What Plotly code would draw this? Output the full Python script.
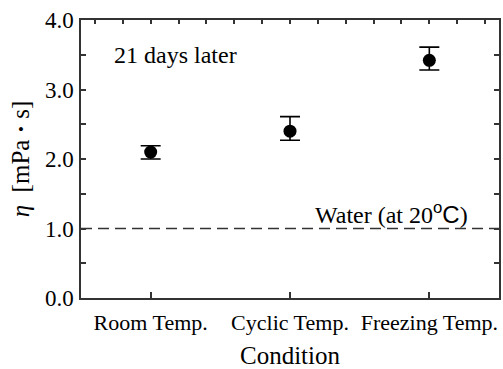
import plotly.graph_objects as go

# ---- data ----
categories = ["Room Temp.", "Cyclic Temp.", "Freezing Temp."]
cat_pos = [0, 1, 2]
viscosity = [2.10, 2.40, 3.42]
err_plus = [0.09, 0.21, 0.19]
err_minus = [0.10, 0.13, 0.14]
water_viscosity = 1.0
y_tickvals = [0.0, 1.0, 2.0, 3.0, 4.0]
y_ticktext = ["0.0", "1.0", "2.0", "3.0", "4.0"]
top_minor_ticks = [-0.4, -0.2, 0.0, 0.2, 0.4, 0.6, 0.8, 1.0, 1.2, 1.4, 1.6, 1.8, 2.0, 2.2, 2.4]
right_ticks = [0.5, 1.0, 1.5, 2.0, 2.5, 3.0, 3.5]

FONT = "Liberation Serif"
AX = "#333333"

fig = go.Figure()
fig.add_trace(go.Scatter(
    x=cat_pos, y=viscosity, mode="markers",
    marker=dict(color="black", size=13),
    error_y=dict(type="data", symmetric=False, array=err_plus, arrayminus=err_minus,
                 color="black", thickness=1.6, width=10),
    showlegend=False, hoverinfo="skip",
))
# invisible traces to activate secondary axes
fig.add_trace(go.Scatter(x=[None], y=[None], xaxis="x2", yaxis="y", showlegend=False))
fig.add_trace(go.Scatter(x=[None], y=[None], xaxis="x", yaxis="y2", showlegend=False))

fig.add_shape(type="line", xref="paper", x0=0, x1=1, yref="y", y0=water_viscosity, y1=water_viscosity,
              line=dict(color="#333333", width=1.5, dash="11px,6px"), layer="below")

fig.add_annotation(x=-0.28, y=3.5, xref="x", yref="y", text="21 days later", showarrow=False,
                   xanchor="left", yanchor="middle", font=dict(family=FONT, size=24, color="black"))
fig.add_annotation(x=2.29, y=1.22, xref="x", yref="y",
                   text="Water (at 20<span style=\"font-family:Liberation Sans\"><sup>o</sup>C</span>)",
                   showarrow=False, xanchor="right", yanchor="middle",
                   font=dict(family=FONT, size=24, color="black"))

fig.update_layout(
    width=503, height=369,
    margin=dict(l=81, r=2, t=20, b=71),
    paper_bgcolor="white", plot_bgcolor="white",
    font=dict(family=FONT, color="black"),
    xaxis=dict(range=[-0.5, 2.5], tickvals=cat_pos, ticktext=categories,
               ticks="inside", ticklen=6, tickwidth=1.5, tickcolor=AX,
               showline=True, linecolor=AX, linewidth=1.5, mirror=True,
               showgrid=False, zeroline=False, ticklabelstandoff=4,
               tickfont=dict(family=FONT, size=22, color="black"),
               title=dict(text="Condition", font=dict(family=FONT, size=25, color="black"), standoff=14)),
    xaxis2=dict(range=[-0.5, 2.5], overlaying="x", side="top", tickvals=top_minor_ticks,
                ticks="inside", ticklen=4, tickwidth=1.5, tickcolor=AX, showticklabels=False,
                showline=False, showgrid=False, zeroline=False),
    yaxis=dict(range=[0, 4], tickvals=y_tickvals, ticktext=y_ticktext,
               ticks="inside", ticklen=5, tickwidth=1.5, tickcolor=AX,
               minor=dict(dtick=0.5, ticks="inside", ticklen=5, tickwidth=1.5, tickcolor=AX, showgrid=False),
               showline=True, linecolor=AX, linewidth=1.5, mirror=True,
               showgrid=False, zeroline=False, ticklabelstandoff=1,
               tickfont=dict(family=FONT, size=23, color="black"),
               title=dict(text="<i>η</i>  [mPa <b>·</b> s]", font=dict(family=FONT, size=25, color="black"), standoff=8)),
    yaxis2=dict(range=[0, 4], overlaying="y", side="right", tickvals=right_ticks,
                ticks="inside", ticklen=5, tickwidth=1.5, tickcolor=AX, showticklabels=False,
                showline=False, showgrid=False, zeroline=False),
)

fig.write_html("out.html")
